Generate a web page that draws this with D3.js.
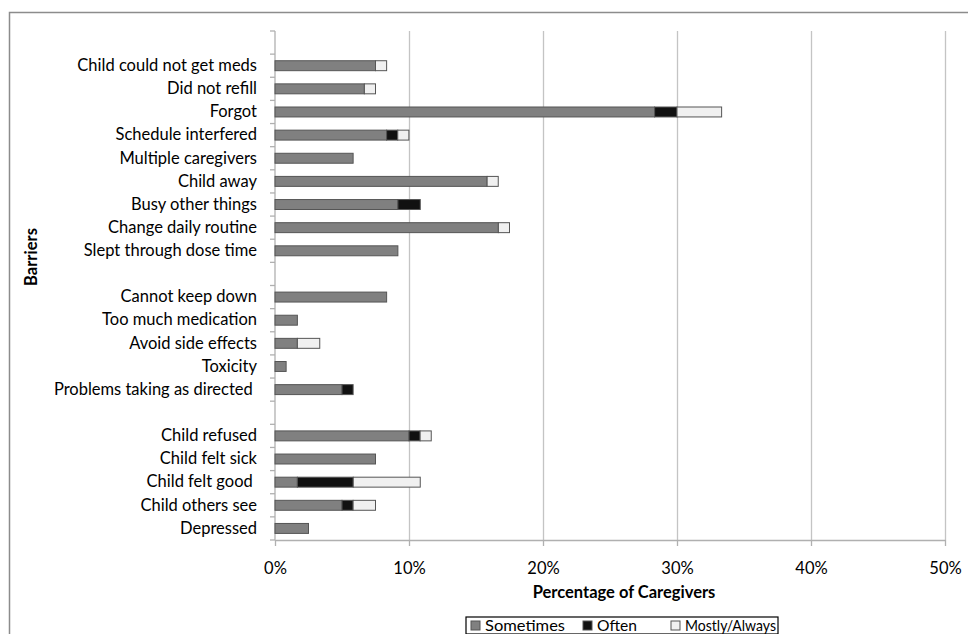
<!DOCTYPE html>
<html>
<head>
<meta charset="utf-8">
<script src="https://cdn.jsdelivr.net/npm/d3@7"></script>
<style>
  body { margin: 0; background: #fff; }
  text { font-family: Lato, "Open Sans", sans-serif; fill: #000; }
</style>
</head>
<body>
<svg id="chart" width="968" height="634"></svg>
<script>
// categories, top to bottom ("_" entries are the empty spacer rows)
const categories = [
  "_b0",
  "Child could not get meds", "Did not refill", "Forgot", "Schedule interfered",
  "Multiple caregivers", "Child away", "Busy other things", "Change daily routine",
  "Slept through dose time",
  "_b1",
  "Cannot keep down", "Too much medication", "Avoid side effects", "Toxicity",
  "Problems taking as directed ",
  "_b2",
  "Child refused", "Child felt sick", "Child felt good ", "Child others see", "Depressed"
];

// percentages of caregivers
const sometimes = [0, 7.5, 6.67, 28.33, 8.33, 5.83, 15.83, 9.17, 16.67, 9.17,
  0, 8.33, 1.67, 1.67, 0.83, 5.0,
  0, 10.0, 7.5, 1.67, 5.0, 2.5];
const often = [0, 0, 0, 1.67, 0.83, 0, 0, 1.67, 0, 0,
  0, 0, 0, 0, 0, 0.83,
  0, 0.83, 0, 4.17, 0.83, 0];
const mostly = [0, 0.83, 0.83, 3.33, 0.83, 0, 0.83, 0, 0.83, 0,
  0, 0, 0, 1.67, 0, 0,
  0, 0.83, 0, 5.0, 1.67, 0];

const seriesKeys = ["sometimes", "often", "mostly"];
const seriesNames = ["Sometimes", "Often", "Mostly/Always"];
const seriesColors = ["#808080", "#111111", "#f0f0f0"];
const xTicks = [0, 10, 20, 30, 40, 50];

const svg = d3.select("#chart");

// outer frame
svg.append("rect")
  .attr("x", 9.5).attr("y", 12.5)
  .attr("width", 980).attr("height", 640)
  .attr("fill", "none")
  .attr("stroke", "#8c8c8c")
  .attr("stroke-width", 1.5);

let plotLeft = 275, plotRight = 945, plotTop = 31, plotBottom = 540;
let fontSize = "16.5px";

let x = d3.scaleLinear().domain([0, 50]).range([plotLeft, plotRight]);
let y = d3.scaleBand().domain(categories).range([plotTop, plotBottom])
  .paddingInner(0.57).paddingOuter(0.285);

// gridlines
svg.append("g")
  .attr("transform", "translate(0," + plotTop + ")")
  .call(d3.axisBottom(x).tickValues(xTicks.slice(1)).tickSize(plotBottom - plotTop).tickFormat(""))
  .call(g => g.select(".domain").remove())
  .call(g => g.selectAll("line").attr("stroke", "#c4c4c4").attr("stroke-width", 1.3));

// x axis
let xAxis = svg.append("g")
  .attr("transform", "translate(0," + plotBottom + ")")
  .call(d3.axisBottom(x).tickValues(xTicks).tickSize(6).tickSizeOuter(0)
    .tickFormat(d => d + "%").tickPadding(16));
xAxis.select(".domain").attr("stroke", "#b0b0b0").attr("stroke-width", 1.3);
xAxis.selectAll("line").attr("stroke", "#b0b0b0").attr("stroke-width", 1.3);
xAxis.selectAll("text").style("font-size", fontSize).style("font-family", "Lato, sans-serif");

// y axis: labels in the middle of each row, ticks between rows
let yAxis = svg.append("g")
  .attr("transform", "translate(" + plotLeft + ",0)")
  .call(d3.axisLeft(y).tickSize(0).tickPadding(18).tickFormat(d => d.startsWith("_") ? "" : d));
yAxis.select(".domain").remove();
yAxis.selectAll("text")
  .style("font-size", fontSize)
  .style("font-family", "Lato, sans-serif")
  .style("white-space", "pre");

let boundaries = d3.range(categories.length + 1).map(i => plotTop + i * y.step());
svg.append("g").selectAll("line")
  .data(boundaries)
  .enter()
  .append("line")
  .attr("x1", plotLeft - 5).attr("x2", plotLeft)
  .attr("y1", d => d).attr("y2", d => d)
  .attr("stroke", "#b0b0b0").attr("stroke-width", 1.3);
svg.append("line")
  .attr("x1", plotLeft).attr("x2", plotLeft)
  .attr("y1", plotTop).attr("y2", plotBottom)
  .attr("stroke", "#b0b0b0").attr("stroke-width", 1.3);

// stacked bars
let rows = categories.map((c, i) => ({
  cat: c, sometimes: sometimes[i], often: often[i], mostly: mostly[i]
}));
let stacked = d3.stack().keys(seriesKeys)(rows);

svg.append("g").selectAll("g")
  .data(stacked)
  .enter()
  .append("g")
  .attr("fill", (d, i) => seriesColors[i])
  .selectAll("rect")
  .data(d => d.filter(s => s[1] - s[0] > 0))
  .enter()
  .append("rect")
  .attr("x", d => x(d[0]))
  .attr("y", d => y(d.data.cat))
  .attr("width", d => x(d[1]) - x(d[0]))
  .attr("height", y.bandwidth())
  .attr("stroke", "#555")
  .attr("stroke-width", 1);

// axis titles
svg.append("text")
  .attr("x", 624).attr("y", 598)
  .attr("text-anchor", "middle")
  .style("font-size", fontSize)
  .style("font-weight", "bold")
  .text("Percentage of Caregivers");

svg.append("text")
  .attr("transform", "translate(37,257) rotate(-90)")
  .attr("text-anchor", "middle")
  .style("font-size", fontSize)
  .style("font-weight", "bold")
  .text("Barriers");

// legend
let legend = svg.append("g");
legend.append("rect")
  .attr("x", 466).attr("y", 617)
  .attr("width", 312).attr("height", 17)
  .attr("fill", "#fff").attr("stroke", "#000").attr("stroke-width", 1.2);

let legendX = [471, 583, 671];
let legendTextWidth = [80, 40, 91];
seriesNames.forEach((name, i) => {
  legend.append("rect")
    .attr("x", legendX[i]).attr("y", 621)
    .attr("width", 9).attr("height", 9)
    .attr("fill", seriesColors[i])
    .attr("stroke", "#555");
  legend.append("text")
    .attr("x", legendX[i] + 14).attr("y", 631)
    .attr("textLength", legendTextWidth[i])
    .attr("lengthAdjust", "spacingAndGlyphs")
    .style("font-size", "16px")
    .text(name);
});
</script>
</body>
</html>
